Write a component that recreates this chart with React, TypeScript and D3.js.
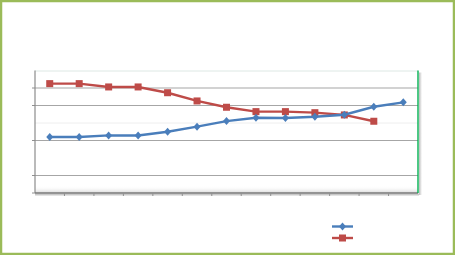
import React from "react";
import * as d3 from "d3";

const categories = ["1", "2", "3", "4", "5", "6", "7", "8", "9", "10", "11", "12", "13"];
const blueValues = [3.2, 3.2, 3.29, 3.29, 3.5, 3.79, 4.11, 4.3, 4.29, 4.36, 4.47, 4.93, 5.18];
const redValues = [6.25, 6.25, 6.06, 6.06, 5.73, 5.26, 4.9, 4.65, 4.65, 4.59, 4.46, 4.1];
const majorGrid = [1, 3, 5, 6];
const faintGrid = [4];

const W = 455;
const H = 255;
const plot = { left: 35, right: 418, top: 70.5, bottom: 193 };

export default function App() {
  const x = d3.scaleBand<string>().domain(categories).range([plot.left, plot.right]);
  const y = d3.scaleLinear().domain([0, 7]).range([plot.bottom, plot.top]);
  const cx = (i: number) => (x(categories[i]) as number) + x.bandwidth() / 2;

  const line = d3
    .line<number>()
    .x((_, i) => cx(i))
    .y((d) => y(d));

  const blue = "#4A7EBB";
  const red = "#BE4B48";
  const diamond = (px: number, py: number) =>
    `M${px},${py - 4}L${px + 3.5},${py}L${px},${py + 4}L${px - 3.5},${py}Z`;

  return (
    <svg
      width={W}
      height={H}
      style={{ position: "absolute", left: 0, top: 0, background: "#fff" }}
    >
      <defs>
        <linearGradient id="floor" x1="0" y1="0" x2="0" y2="1">
          <stop offset="0" stopColor="#ffffff" stopOpacity="0" />
          <stop offset="1" stopColor="#d8d8d8" stopOpacity="1" />
        </linearGradient>
        <linearGradient id="rshadow" x1="0" y1="0" x2="1" y2="0">
          <stop offset="0" stopColor="#bbbbbb" />
          <stop offset="1" stopColor="#ffffff" />
        </linearGradient>
      </defs>
      <rect x={1} y={1} width={W - 2} height={H - 2} fill="#fff" stroke="#9BBB59" strokeWidth={2.5} />

      {/* plot area */}
      <rect x={plot.right + 1} y={plot.top + 2} width={3} height={plot.bottom - plot.top} fill="url(#rshadow)" />
      <line x1={plot.left} x2={plot.right} y1={plot.top + 0.5} y2={plot.top + 0.5} stroke="#dde8e4" strokeWidth={1} />
      <rect x={plot.left} y={plot.bottom - 7} width={plot.right - plot.left} height={7} fill="url(#floor)" />

      {faintGrid.map((v) => (
        <line key={"f" + v} x1={plot.left} x2={plot.right} y1={y(v)} y2={y(v)} stroke="#eeeeee" strokeWidth={1} />
      ))}
      {majorGrid.map((v) => (
        <g key={"g" + v}>
          <line x1={plot.left} x2={plot.right} y1={y(v)} y2={y(v)} stroke="#a6a6a6" strokeWidth={1.2} />
          <line x1={plot.left - 3} x2={plot.left} y1={y(v)} y2={y(v)} stroke="#909090" strokeWidth={1} />
        </g>
      ))}

      {/* axes */}
      <line x1={plot.left} x2={plot.left} y1={plot.top} y2={plot.bottom} stroke="#8c8c8c" strokeWidth={1.2} />
      <line x1={plot.left - 3} x2={plot.left} y1={plot.bottom} y2={plot.bottom} stroke="#909090" strokeWidth={1} />
      <line x1={plot.left} x2={plot.right + 1} y1={plot.bottom + 1.5} y2={plot.bottom + 1.5} stroke="#c8c8c8" strokeWidth={2} />
      <line x1={plot.left} x2={plot.right} y1={plot.bottom} y2={plot.bottom} stroke="#7a7a7a" strokeWidth={1.6} />
      {categories.map((c, i) =>
        i === 0 ? null : (
          <line
            key={"t" + c}
            x1={x(c) as number}
            x2={x(c) as number}
            y1={plot.bottom}
            y2={plot.bottom + 3}
            stroke="#909090"
            strokeWidth={1}
          />
        )
      )}
      <line x1={plot.right} x2={plot.right} y1={plot.top} y2={plot.bottom} stroke="#00B050" strokeWidth={1.4} />

      {/* series */}
      <path d={line(redValues) || ""} fill="none" stroke={red} strokeWidth={2.4} />
      {redValues.map((v, i) => (
        <rect key={"r" + i} x={cx(i) - 3.5} y={y(v) - 3.5} width={7} height={7} fill={red} />
      ))}
      <path d={line(blueValues) || ""} fill="none" stroke={blue} strokeWidth={2.4} />
      {blueValues.map((v, i) => (
        <path key={"b" + i} d={diamond(cx(i), y(v))} fill={blue} />
      ))}

      {/* legend */}
      <line x1={332} x2={353} y1={226.5} y2={226.5} stroke={blue} strokeWidth={2.4} />
      <path d={diamond(342.5, 226.5)} fill={blue} />
      <line x1={332} x2={353} y1={238} y2={238} stroke={red} strokeWidth={2.4} />
      <rect x={339} y={234.5} width={7} height={7} fill={red} />
    </svg>
  );
}
